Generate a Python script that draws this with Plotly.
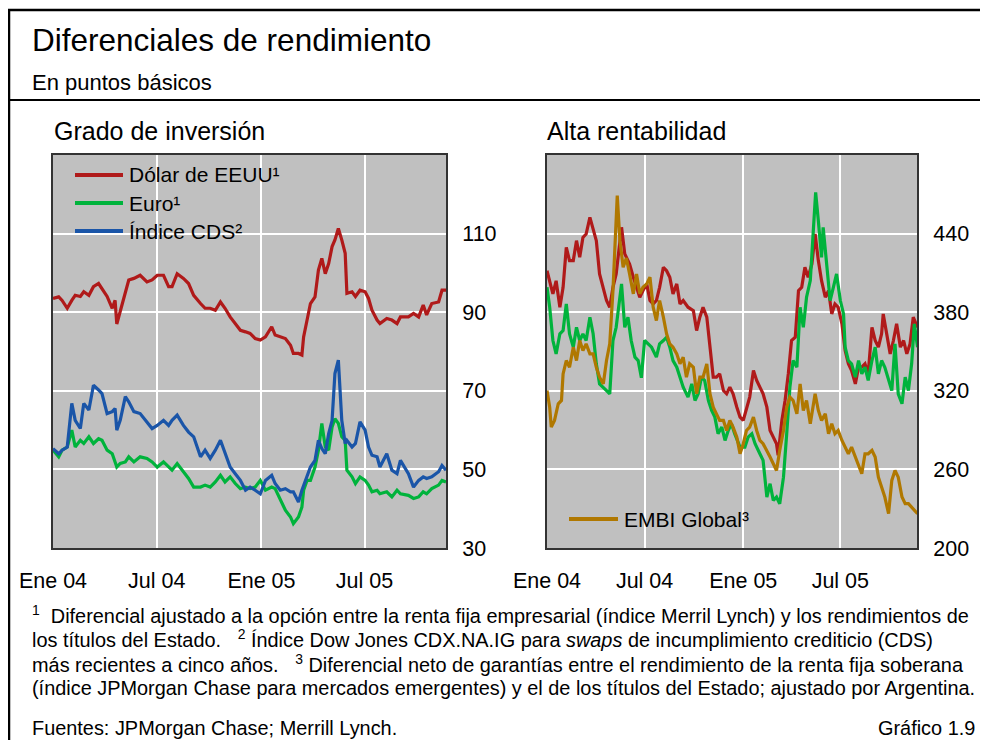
import pandas as pd
import plotly.graph_objects as go

# ---------------- data (days since 2004-01-01, spreads in basis points) ----------------
ig_days = [0, 10, 16, 25, 33, 39, 48, 54, 63, 71,
           80, 86, 95, 104, 109, 112, 118, 127, 133, 142,
           153, 165, 174, 183, 194, 203, 209, 218, 229, 238,
           247, 259, 267, 276, 285, 294, 302, 311, 320, 329,
           338, 346, 355, 364, 373, 384, 390, 399, 408, 417,
           422, 431, 437, 440, 446, 452, 460, 466, 472, 478,
           484, 490, 495, 501, 507, 513, 516, 525, 531, 539,
           548, 554, 560, 569, 574, 586, 595, 604, 610, 624,
           633, 642, 650, 656, 665, 677, 683, 690]
ig_usd = [93.5, 93.9, 93, 91, 93, 94.3, 94, 95.2, 94.3, 96.5,
          97.3, 96, 94, 91, 93, 87, 90, 94.8, 98.2, 98.6,
          99.4, 97.7, 98.2, 99.4, 99.4, 96.5, 96.5, 99.8, 98.6, 97.3,
          94.3, 92.2, 91, 91, 90.5, 92.6, 91, 88.8, 87.1, 85.4,
          85, 84.6, 83.3, 82.9, 83.7, 86.3, 84.2, 83.7, 83.3, 81.6,
          79.5, 79.5, 79.1, 83.7, 88, 92.2, 93.9, 100.7, 103.7, 99.8,
          102.4, 106.7, 108.4, 111.3, 108.4, 105, 94.8, 95.2, 94, 95.6,
          95.2, 93.5, 90.5, 88, 87.1, 88.4, 88, 87.1, 88.8, 88.8,
          89.7, 88.8, 91.8, 89.3, 92.2, 92.6, 95.6, 95.6]
ig_eur = [54.9, 53.2, 54.9, 55.7, 60, 55.7, 57.4, 56.6, 58.3, 56.6,
          57.8, 57.4, 54.9, 54, 51.9, 50.6, 51.5, 51.9, 53.2, 51.9,
          53.2, 52.8, 51.9, 50.6, 51.9, 50.6, 49.8, 51.5, 49.4, 47.7,
          45.5, 45.5, 46, 45.5, 46.8, 48.5, 46.8, 48.1, 46.4, 45.1,
          45.5, 45.1, 45.5, 47.2, 44.7, 45.5, 45.1, 42.1, 39.6, 37.9,
          36.2, 37.9, 40.4, 44.7, 47.2, 47.2, 50.6, 54.9, 61.7, 55.7,
          54.9, 60.8, 62.9, 61.7, 58.3, 57.4, 49.8, 48.1, 46.4, 48.1,
          47.2, 46, 44.3, 44.7, 43.8, 44.3, 43, 44.7, 43.8, 43.4,
          42.6, 43, 44.3, 43.8, 45.1, 46, 47.2, 46.8]
ig_cds = [55.3, 54, 54.9, 55.7, 66.8, 62.5, 60.4, 66.8, 65.1, 71.4,
          70.2, 69.3, 64.2, 64.7, 65.5, 60, 62.5, 68.5, 67.2, 64.7,
          64.2, 62.1, 60.4, 61.2, 62.5, 61.2, 62.5, 63.8, 61.2, 59.5,
          58.3, 53.2, 54.9, 52.8, 54.9, 57.4, 54, 50.6, 48.9, 47.2,
          44.7, 45.5, 44.7, 43.8, 47.2, 48.5, 46.4, 44.7, 45.1, 44.3,
          44.3, 41.7, 44.7, 46, 48.1, 50.6, 52.3, 57.4, 55.3, 54,
          59.1, 62.5, 74.4, 77.8, 62.5, 56.6, 57.4, 55.7, 56.6, 62.1,
          60, 55.7, 53.6, 53.2, 50.6, 54, 49.8, 48.9, 52.3, 48.9,
          45.5, 47.2, 48.1, 47.7, 48.1, 49.4, 51, 49.8]

hy_usd_days = [0, 5, 11, 17, 24, 30, 36, 42, 49, 55, 61, 67, 73, 80, 86, 92, 98, 105, 111, 117,
               123, 129, 139, 145, 154, 161, 167, 173, 179, 186, 192, 198, 204, 210, 217, 223, 229,
               235, 242, 248, 254, 263, 273, 279, 285, 291, 298, 304, 310, 316, 322, 329, 335, 341,
               347, 354, 360, 366, 372, 378, 385, 391, 397, 403, 410, 416, 422, 428, 431, 438, 444,
               450, 456, 463, 469, 475, 481, 487, 494, 500, 506, 512, 519, 525, 531, 537, 543, 550,
               556, 562, 568, 575, 581, 587, 593, 599, 606, 612, 618, 624, 627, 634, 640, 646, 652,
               659, 665, 671, 677, 683, 691]
hy_usd = [411.7, 404, 394, 404, 383.8, 399, 429.5, 419.4, 419.4, 434.6, 422, 437, 439.7, 452.4,
          442.3, 434.6, 409.2, 399, 388.9, 383.8, 399, 409.2, 444.8, 424.5, 416.8, 406.7, 399,
          391.4, 396.5, 401.6, 388.9, 386.3, 388.9, 399, 414.3, 411.7, 406.7, 394, 401.6, 386.3,
          388.9, 383.8, 381.2, 366, 376.2, 383.8, 376.2, 350.7, 330.4, 330.4, 333, 320.2, 317.7,
          322.8, 317.7, 307.5, 299.9, 297.4, 307.5, 315.2, 335.5, 327.9, 322.8, 317.7, 307.5,
          289.7, 284.6, 279.6, 270.7, 297.4, 312.6, 332.9, 358.4, 360.9, 396.5, 399, 414.3, 406.7,
          416.8, 439.7, 419.4, 404.1, 391.4, 396.5, 378.7, 386.3, 383.8, 371.1, 350.7, 340.6,
          335.5, 325.3, 338, 338, 340.6, 332.9, 368.5, 358.4, 353.3, 363.5, 378.7, 363.5, 348.2,
          358.4, 371.1, 353.3, 358.4, 348.2, 355.8, 376.2, 368.5]

hy_eur_days = [0, 5, 11, 17, 24, 30, 36, 42, 49, 55, 61, 67, 73, 80, 86, 92, 98, 105, 111, 117,
               123, 129, 139, 145, 151, 157, 164, 170, 176, 182, 189, 195, 204, 210, 217, 223, 229,
               235, 242, 248, 254, 263, 270, 276, 282, 288, 294, 301, 307, 313, 319, 326, 332, 338,
               344, 350, 360, 369, 375, 382, 388, 397, 403, 410, 416, 422, 428, 434, 441, 447, 453,
               459, 466, 472, 478, 484, 491, 497, 501, 506, 512, 515, 522, 528, 534, 540, 547, 553,
               556, 562, 568, 575, 581, 587, 593, 599, 606, 612, 618, 624, 630, 637, 643, 649, 655,
               662, 668, 674, 680, 685, 691]
hy_eur = [399, 383.8, 358.4, 348.2, 363.5, 366, 386.3, 363.5, 353.3, 368.5, 358.4, 363.5, 358.4,
          376.2, 363.5, 340.6, 325.3, 322.8, 320.2, 317.7, 358.4, 368.5, 401.6, 368.5, 376.2,
          358.4, 345.7, 343.1, 329.9, 358.4, 355.8, 353.3, 345.7, 355.8, 358.4, 360.9, 353.3,
          343.1, 338, 330.4, 322.8, 315.2, 325.3, 312.6, 317.7, 330.4, 327.9, 312.6, 305, 299.9,
          287.2, 292.3, 282.1, 289.7, 294.8, 287.2, 277, 277, 284.6, 287.2, 279.6, 271.9, 266.9,
          238.9, 249.1, 236.3, 238.9, 233.8, 254.1, 287.2, 322.8, 343.1, 338, 383.8, 368.5, 391.4,
          404.1, 444.8, 471.5, 449.9, 421.9, 444.8, 416.8, 388.9, 399, 409.2, 388.9, 378.7, 353.3,
          343.1, 340.6, 330.4, 343.1, 332.9, 338, 327.9, 343.1, 353.3, 332.9, 343.1, 338, 327.9,
          320.2, 355.8, 317.7, 310.1, 330.4, 320.2, 340.6, 371.1, 353.3]

embi_days = [0, 5, 8, 14, 21, 27, 30, 36, 42, 49, 55, 61, 67, 73, 80, 86, 92, 98, 105, 111, 117,
             123, 131, 136, 142, 148, 154, 161, 167, 173, 179, 186, 192, 198, 204, 210, 217, 223,
             229, 235, 242, 248, 254, 260, 266, 273, 279, 285, 291, 298, 304, 310, 316, 322, 329,
             335, 341, 347, 354, 360, 366, 372, 378, 385, 391, 397, 403, 410, 416, 422, 428, 434,
             441, 447, 453, 459, 466, 472, 478, 484, 491, 500, 506, 512, 519, 525, 531, 537, 543,
             550, 556, 562, 568, 575, 581, 587, 593, 599, 606, 612, 618, 624, 630, 637, 643, 649,
             655, 662, 668, 674, 680, 687, 691]
embi = [320.2, 307.5, 292.3, 297.4, 310.1, 312.6, 332.9, 343.1, 338, 353.3, 343.1, 358.4, 350.7,
        355.8, 348.2, 348.2, 338, 330.4, 325.3, 343.1, 355.8, 396.5, 469, 434.6, 414.3, 421.4,
        409.2, 394, 409.2, 394, 399, 401.6, 406.7, 383.8, 373.6, 388.9, 376.2, 363.5, 355.8,
        353.3, 348.2, 340.6, 345.7, 330.4, 340.6, 338, 317.7, 330.4, 330.4, 340.6, 317.7, 307.5,
        302.4, 297.4, 297.4, 289.7, 297.4, 292.3, 284.6, 271.9, 279.6, 289.7, 292.3, 299.9,
        289.7, 282.1, 279.6, 274.5, 269.4, 264.3, 259.2, 274.5, 289.7, 307.5, 315.2, 312.6,
        302.4, 325.3, 305, 312.6, 294.8, 317.7, 305, 297.4, 302.4, 287.2, 294.8, 287.2, 289.7,
        282.1, 277, 271.9, 277, 269.4, 261.8, 256.7, 271.9, 271.9, 274.5, 269.4, 254.1, 246.5,
        238.9, 226.2, 251.6, 259.2, 254.1, 238.9, 233.8, 233.8, 231.3, 228.7, 226.2]

tick_dates = ["2004-01-01", "2004-07-01", "2005-01-01", "2005-07-01"]
tick_labels = ["Ene 04", "Jul 04", "Ene 05", "Jul 05"]
ig_ticks = [30, 50, 70, 90, 110]
hy_ticks = [200, 260, 320, 380, 440]

# ---------------- styling ----------------
FONT = "Arial, Liberation Sans, sans-serif"
C_RED, C_GREEN, C_BLUE, C_GOLD = "#B01A1A", "#00B33C", "#1A55A8", "#B07800"
BG = "#C0C0C0"
OFF = 8                      # page body margin of the html page
W, H = 988 - OFF, 740 - OFF  # figure size so that it fits the window
LW = 3.2

def to_dates(days):
    return pd.Timestamp("2004-01-01") + pd.to_timedelta(days, unit="D")

def px(x):
    return (x - OFF) / W

def py(y):
    return 1 - (y - OFF) / H

fig = go.Figure()
for name, days, vals, col in [("Dólar de EEUU¹", ig_days, ig_usd, C_RED),
                              ("Euro¹", ig_days, ig_eur, C_GREEN),
                              ("Índice CDS²", ig_days, ig_cds, C_BLUE)]:
    fig.add_trace(go.Scatter(x=to_dates(days), y=vals, mode="lines", name=name,
                             line=dict(color=col, width=LW), xaxis="x", yaxis="y",
                             showlegend=False))
for name, days, vals, col in [("Dólar de EEUU", hy_usd_days, hy_usd, C_RED),
                              ("Euro", hy_eur_days, hy_eur, C_GREEN),
                              ("EMBI Global³", embi_days, embi, C_GOLD)]:
    fig.add_trace(go.Scatter(x=to_dates(days), y=vals, mode="lines", name=name,
                             line=dict(color=col, width=LW), xaxis="x2", yaxis="y2",
                             showlegend=False))

TICK_SIZE = 21.5
xcommon = dict(type="date", range=["2004-01-01", "2005-11-21"], tickvals=tick_dates,
               ticktext=tick_labels, showgrid=True, gridcolor="white", gridwidth=2,
               showline=True, mirror=True, linecolor="#333333", linewidth=2,
               ticks="", ticklabelstandoff=12, zeroline=False, automargin=False,
               tickfont=dict(family=FONT, size=TICK_SIZE, color="black"))
ycommon = dict(side="right", showgrid=True, gridcolor="white", gridwidth=2,
               showline=True, mirror=True, linecolor="#333333", linewidth=2,
               ticks="", ticklabelstandoff=10, zeroline=False, automargin=False,
               tickfont=dict(family=FONT, size=TICK_SIZE, color="black"))

ydom = [py(548), py(155)]
fig.update_layout(
    width=W, height=H, margin=dict(l=0, r=0, t=0, b=0, autoexpand=False),
    paper_bgcolor="white", plot_bgcolor=BG, showlegend=False,
    xaxis=dict(domain=[px(53), px(446)], anchor="y", **xcommon),
    yaxis=dict(domain=ydom, anchor="x", range=[30, 130], tickvals=ig_ticks, **ycommon),
    xaxis2=dict(domain=[px(547), px(917)], anchor="y2", **xcommon),
    yaxis2=dict(domain=ydom, anchor="x2", range=[200, 500], tickvals=hy_ticks, **ycommon),
)

shapes = []
# outer frame and separator
shapes.append(dict(type="rect", xref="paper", yref="paper", x0=px(9), x1=1.02,
                   y0=-0.02, y1=py(10), line=dict(color="black", width=2.5)))
shapes.append(dict(type="line", xref="paper", yref="paper", x0=px(9), x1=1.02,
                   y0=py(100), y1=py(100), line=dict(color="black", width=2)))
# legend backgrounds (cover gridlines)
shapes.append(dict(type="rect", xref="paper", yref="paper", layer="between",
                   x0=px(65), x1=px(243), y0=py(252), y1=py(157),
                   fillcolor=BG, line=dict(width=0)))
shapes.append(dict(type="rect", xref="paper", yref="paper", layer="between",
                   x0=px(560), x1=px(800), y0=py(537), y1=py(502),
                   fillcolor=BG, line=dict(width=0)))

annotations = []
def text(x, y, s, size, anchor="left", **kw):
    annotations.append(dict(x=px(x), y=py(y), xref="paper", yref="paper", text=s,
                            showarrow=False, xanchor=anchor, yanchor="middle",
                            font=dict(family=FONT, size=size, color="black"), **kw))

# legends drawn as line samples + labels
left_leg = [("Dólar de EEUU¹", C_RED, 175), ("Euro¹", C_GREEN, 203), ("Índice CDS²", C_BLUE, 231)]
for lab, col, yy in left_leg:
    shapes.append(dict(type="line", xref="paper", yref="paper", x0=px(75), x1=px(123),
                       y0=py(yy), y1=py(yy), line=dict(color=col, width=4)))
    text(127, yy, lab, 21)
shapes.append(dict(type="line", xref="paper", yref="paper", x0=px(569), x1=px(618),
                   y0=py(519), y1=py(519), line=dict(color=C_GOLD, width=4)))
text(622, 519, "EMBI Global³", 21)

text(30, 40, "Diferenciales de rendimiento", 31.5)
text(30, 82, "En puntos básicos", 22)
text(52, 131, "Grado de inversión", 25)
text(545, 131, "Alta rentabilidad", 25)

FOOT = 19.9
foot = [
    "<sup>1</sup>  Diferencial ajustado a la opción entre la renta fija empresarial (índice Merril Lynch) y los rendimientos de",
    "los títulos del Estado.   <sup>2</sup> Índice Dow Jones CDX.NA.IG para <i>swaps</i> de incumplimiento crediticio (CDS)",
    "más recientes a cinco años.   <sup>3</sup> Diferencial neto de garantías entre el rendimiento de la renta fija soberana",
    "(índice JPMorgan Chase para mercados emergentes) y el de los títulos del Estado; ajustado por Argentina.",
]
for i, line in enumerate(foot):
    text(30, 614 + 24.7 * i, line, FOOT)
text(30, 728, "Fuentes: JPMorgan Chase; Merrill Lynch.", FOOT)
text(977, 728, "Gráfico 1.9", FOOT, anchor="right")

fig.update_layout(shapes=shapes, annotations=annotations)
fig.write_html("out.html")
